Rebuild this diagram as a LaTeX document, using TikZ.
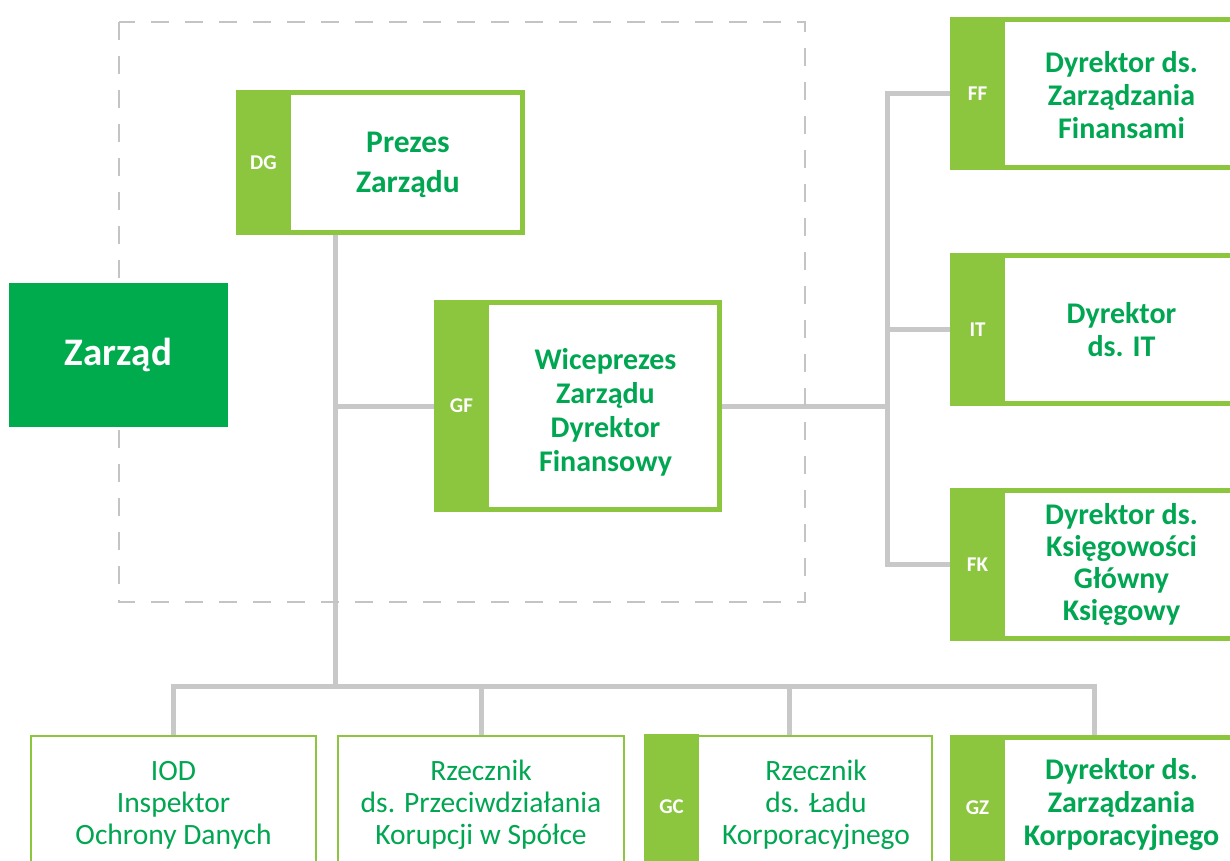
\documentclass[tikz,border=0pt]{standalone}
\usepackage{fontspec}
\setmainfont{Carlito}
\usetikzlibrary{calc,positioning,backgrounds}
\definecolor{lgreen}{HTML}{8CC63F}
\definecolor{dgreen}{HTML}{00A651}
\definecolor{board}{HTML}{00AB4E}
\definecolor{linegray}{HTML}{C8C8C8}
\definecolor{framegray}{HTML}{C4C4C4}
\tikzset{
  unit/.style={draw=lgreen, line width=5pt, fill=white, inner sep=0pt},
  thinunit/.style={draw=lgreen, line width=2pt, fill=white, inner sep=0pt},
  tag/.style={fill=lgreen, inner sep=0pt, outer sep=0pt, minimum width=55pt,
    text=white, font=\fontsize{21}{21}\selectfont\bfseries, anchor=north west},
  title/.style={text=dgreen, align=center, font=\fontsize{30}{33}\selectfont\bfseries},
  plaintitle/.style={text=dgreen, align=center, font=\fontsize{29.5}{32}\selectfont},
  link/.style={draw=linegray, line width=5pt, line cap=rect},
  boardframe/.style={draw=framegray, line width=2.5pt, dash pattern=on 18pt off 16pt},
}
\begin{document}
\begin{tikzpicture}[x=1pt,y=-1pt]
  \useasboundingbox (0,0) rectangle (1230,861);
  \clip (0,0) rectangle (1230,861);

  % board frame
  \draw[boardframe] (119,22) rectangle (805,602);
  \node[fill=board, minimum width=219pt, minimum height=144pt, text=white,
    font=\fontsize{39}{39}\selectfont\bfseries] (zarzad) at (118.5,355) {Zarząd};

  % board members
  \node[unit, minimum width=284pt, minimum height=140pt] (prezes) at (380.5,162.5) {};
  \node[tag, minimum height=145pt] (prezestag) at (prezes.north west) {DG};
  \node[title, font=\fontsize{31.5}{40}\selectfont\bfseries]
    at ($(prezestag.east)!0.5!(prezes.east)+(0,2)$) {Prezes\\Zarządu};

  \node[unit, minimum width=283pt, minimum height=207pt] (wice) at (578,406) {};
  \node[tag, minimum height=212pt] (wicetag) at (wice.north west) {GF};
  \node[title, font=\fontsize{30}{34}\selectfont\bfseries]
    at ($(wicetag.east)!0.5!(wice.east)+(0,6)$) {Wiceprezes\\Zarządu\\Dyrektor\\Finansowy};

  % finance directors
  \node[unit, minimum width=283pt, minimum height=148pt] (ff) at (1094,93.5) {};
  \node[tag, minimum height=153pt] (fftag) at (ff.north west) {FF};
  \node[title] at ($(fftag.east)!0.5!(ff.east)+(0,2)$) {Dyrektor ds.\\Zarządzania\\Finansami};

  \node[unit, minimum width=283pt, minimum height=148pt] (it) at (1094,329.5) {};
  \node[tag, minimum height=153pt] (ittag) at (it.north west) {IT};
  \node[title] at ($(ittag.east)!0.5!(it.east)$) {Dyrektor\\ds. IT};

  \node[unit, minimum width=283pt, minimum height=148pt] (fk) at (1094,564.5) {};
  \node[tag, minimum height=153pt] (fktag) at (fk.north west) {FK};
  \node[title, font=\fontsize{30}{32}\selectfont\bfseries]
    at ($(fktag.east)!0.5!(fk.east)$) {Dyrektor ds.\\Księgowości\\Główny\\Księgowy};

  % bottom row
  \node[thinunit, minimum width=285pt, minimum height=143pt] (iod) at (173.5,807.5) {};
  \node[plaintitle] at (173.5,805) {IOD\\Inspektor\\Ochrony Danych};

  \node[thinunit, minimum width=286pt, minimum height=143pt] (rzecz) at (481,807.5) {};
  \node[plaintitle] at (481,805) {Rzecznik\\ds. Przeciwdziałania\\Korupcji w Spółce};

  \node[thinunit, minimum width=286pt, minimum height=143pt] (gc) at (789,807.5) {};
  \node[tag, minimum height=145pt] (gctag) at ($(gc.north west)+(-1,-1)$) {GC};
  \node[plaintitle] at ($(gctag.east)!0.5!(gc.east)+(0,-2.5)$) {Rzecznik\\ds. Ładu\\Korporacyjnego};

  \node[unit, minimum width=283pt, minimum height=140pt] (gz) at (1094,807.5) {};
  \node[tag, minimum height=145pt] (gztag) at (gz.north west) {GZ};
  \node[title] at ($(gztag.east)!0.5!(gz.east)+(0,-2.5)$) {Dyrektor ds.\\Zarządzania\\Korporacyjnego};

  % connectors
  \coordinate (hub) at (335,686);
  \coordinate (rbus) at (887,406);
  \begin{scope}[on background layer]
    \draw[link] (prezes.south -| hub) -- (hub);
    \draw[link] (hub |- wice.west) -- (wice.west);
    \draw[link] (iod.north |- hub) -- (gz.north |- hub);
    \foreach \b in {iod,rzecz,gc,gz}
      \draw[link] (\b.north |- hub) -- (\b.north);
    \draw[link] (wice.east) -- (rbus);
    \draw[link] (ff.west -| rbus) -- (fk.west -| rbus);
    \foreach \b in {ff,it,fk}
      \draw[link] (\b.west -| rbus) -- (\b.west);
  \end{scope}
\end{tikzpicture}
\end{document}
